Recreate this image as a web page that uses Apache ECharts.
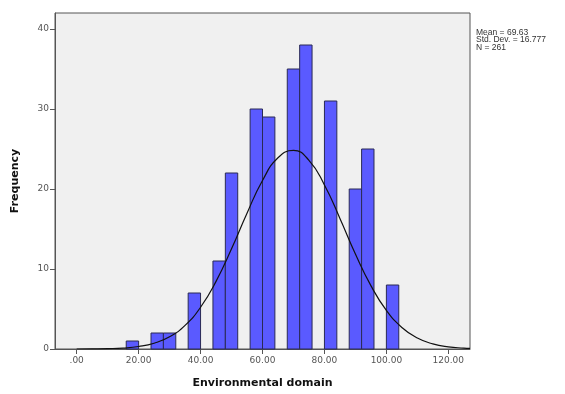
<!DOCTYPE html>
<html>
<head>
<meta charset="utf-8">
<script src="https://cdn.jsdelivr.net/npm/echarts@6/dist/echarts.min.js"></script>
<style>
  html, body { margin: 0; padding: 0; background: #fff; }
  #main { width: 565px; height: 394px; }
</style>
</head>
<body>
<div id="main"></div>
<script>
// histogram bins (width 4)
const binWidth = 4;
const binStart = [16, 24, 28, 36, 44, 48, 56, 60, 68, 72, 80, 88, 92, 100];
const binCount = [1, 2, 2, 7, 11, 22, 30, 29, 35, 38, 31, 20, 25, 8];

// fitted normal curve
const curveX = [0, 5, 10, 15, 20, 25, 30, 35, 40, 45, 50, 55, 60, 65, 70, 75, 80, 85, 90, 95, 100, 105, 110, 115, 120, 125, 127];
const curveY = [0.0, 0.02, 0.05, 0.12, 0.31, 0.72, 1.52, 2.95, 5.22, 8.45, 12.52, 16.98, 21.06, 23.9, 24.82, 23.59, 20.51, 16.32, 11.88, 7.92, 4.83, 2.69, 1.37, 0.64, 0.27, 0.11, 0.07];

const xTicks = [0, 20, 40, 60, 80, 100, 120];
const yTicks = [0, 10, 20, 30, 40];
const statsLines = ["Mean = 69.63", "Std. Dev. = 16.777", "N = 261"];

let myChart = echarts.init(document.getElementById("main"));

let barData = [];
for (let i = 0; i < binStart.length; i++) {
  barData.push([binStart[i], binStart[i] + binWidth, binCount[i]]);
}
let lineData = [];
for (let i = 0; i < curveX.length; i++) {
  lineData.push([curveX[i], curveY[i]]);
}

let option = {
  animation: false,
  grid: {
    left: 55,
    top: 13,
    width: 415,
    height: 345,
    show: true,
    backgroundColor: "#f0f0f0",
    borderColor: "#555",
    borderWidth: 1
  },
  xAxis: {
    type: "value",
    min: -7,
    max: 127,
    name: "Environmental domain",
    nameLocation: "middle",
    nameGap: 29,
    nameTextStyle: {
      fontFamily: "DejaVu Sans",
      fontWeight: "bold",
      fontSize: 11,
      color: "#111"
    },
    splitLine: { show: false },
    axisLine: { show: true, onZero: false, lineStyle: { color: "#555", width: 1 } },
    axisTick: {
      show: true,
      inside: false,
      length: 5,
      customValues: xTicks,
      lineStyle: { color: "#555" }
    },
    axisLabel: {
      customValues: xTicks,
      margin: 7,
      fontSize: 9,
      fontFamily: "DejaVu Sans",
      color: "#555",
      formatter: function (v) {
        return v === 0 ? ".00" : v.toFixed(2);
      }
    }
  },
  yAxis: {
    type: "value",
    min: 0,
    max: 42,
    name: "Frequency",
    nameLocation: "middle",
    nameGap: 34,
    nameTextStyle: {
      fontFamily: "DejaVu Sans",
      fontWeight: "bold",
      fontSize: 11,
      color: "#111"
    },
    splitLine: { show: false },
    axisLine: { show: true, onZero: false, lineStyle: { color: "#555", width: 1 } },
    axisTick: {
      show: true,
      inside: false,
      length: 5,
      customValues: yTicks,
      lineStyle: { color: "#555" }
    },
    axisLabel: {
      customValues: yTicks,
      margin: 6,
      fontSize: 9,
      fontFamily: "DejaVu Sans",
      color: "#555"
    }
  },
  graphic: [
    {
      type: "text",
      left: 476,
      top: 28,
      style: {
        text: statsLines.join("\n"),
        fontFamily: "Liberation Sans",
        fontSize: 8.5,
        lineHeight: 7.5,
        fill: "#333"
      }
    }
  ],
  series: [
    {
      type: "custom",
      renderItem: function (params, api) {
        let p0 = api.coord([api.value(0), api.value(2)]);
        let p1 = api.coord([api.value(1), 0]);
        return {
          type: "rect",
          shape: { x: p0[0], y: p0[1], width: p1[0] - p0[0], height: p1[1] - p0[1] },
          style: { fill: "#5a5aff", stroke: "#2a2a55", lineWidth: 1 }
        };
      },
      encode: { x: [0, 1], y: 2 },
      data: barData,
      z: 2
    },
    {
      type: "line",
      data: lineData,
      smooth: true,
      showSymbol: false,
      lineStyle: { color: "#111", width: 1.2 },
      z: 3
    }
  ]
};

myChart.setOption(option, true);
</script>
</body>
</html>
